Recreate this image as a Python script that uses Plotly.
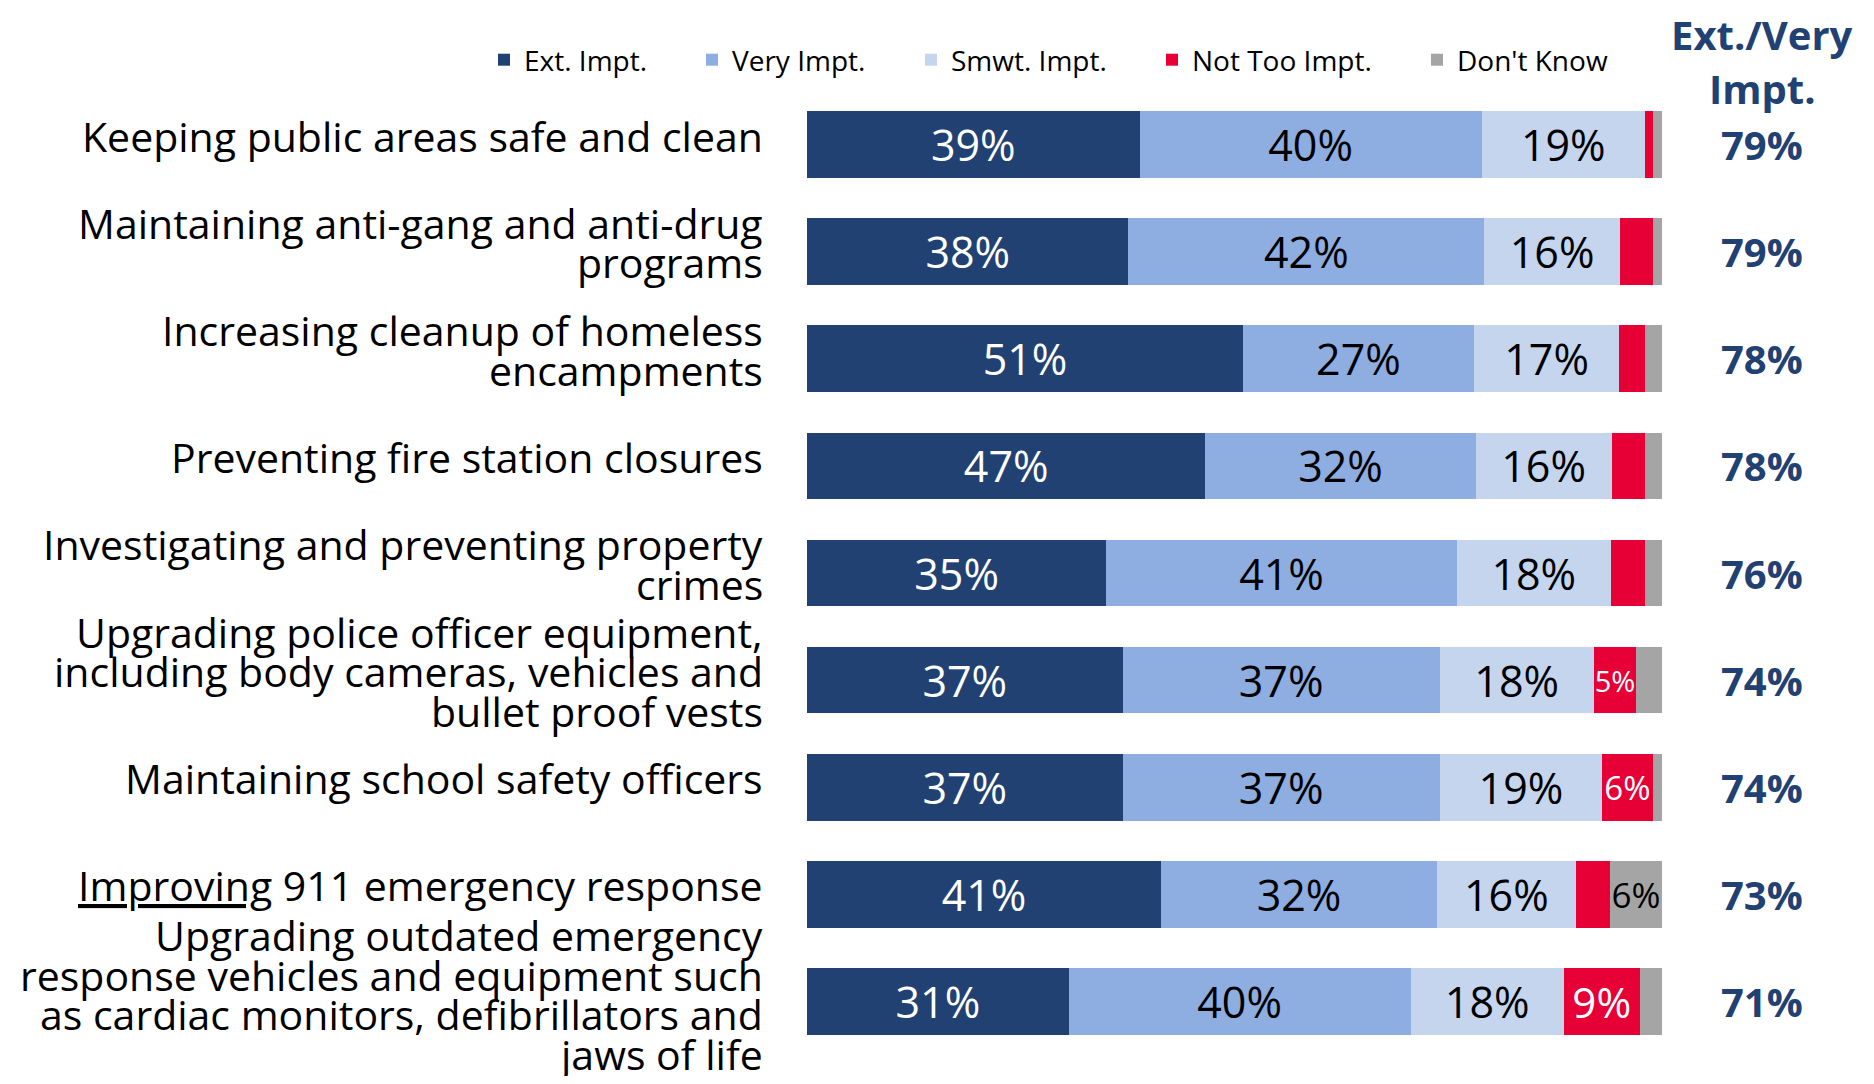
import re
import plotly.graph_objects as go

# ---------------- data ----------------
categories = [
    "Keeping public areas safe and clean",
    "Maintaining anti-gang and anti-drug\nprograms",
    "Increasing cleanup of homeless\nencampments",
    "Preventing fire station closures",
    "Investigating and preventing property\ncrimes",
    "Upgrading police officer equipment,\nincluding body cameras, vehicles and\nbullet proof vests",
    "Maintaining school safety officers",
    "<u>Improving</u> 911 emergency response",
    "Upgrading outdated emergency\nresponse vehicles and equipment such\nas cardiac monitors, defibrillators and\njaws of life",
]
ext_impt = [38.9, 37.6, 51.0, 46.6, 35.0, 36.9, 36.9, 41.4, 30.6]
very_impt = [40.0, 41.6, 27.0, 31.6, 41.0, 37.1, 37.1, 32.3, 40.0]
smwt_impt = [19.1, 15.9, 17.0, 15.9, 18.0, 18.0, 19.0, 16.2, 17.9]
not_too_impt = [1.0, 3.8, 3.0, 3.9, 4.0, 5.0, 5.9, 4.0, 8.9]
dont_know = [1.0, 1.1, 2.0, 2.0, 2.0, 3.0, 1.1, 6.1, 2.6]
net_ext_very = [79, 79, 78, 78, 76, 74, 74, 73, 71]
series_names = ["Ext. Impt.", "Very Impt.", "Smwt. Impt.", "Not Too Impt.", "Don't Know"]
net_header = ["Ext./Very", "Impt."]

# ---------------- styles ----------------
colors = ["#224173", "#8EADE0", "#C5D5EE", "#E60036", "#A5A5A5"]
text_colors = ["white", "black", "black", "white", "black"]
FONT = "Open Sans"
NAVY = "#224173"
OFF = 8                      # page body margin
W, H = 1874 - 2 * OFF, 1084 - 2 * OFF
PL, PR, PT, PB = 807, 1662, 91, 1055   # plot area, page pixels
LINE_H = 39.5

def xp(px):
    return (px - PL) / (PR - PL)

def yp(py):
    return (PB - py) / (PB - PT)

cat_names = [re.sub(r"<[^>]+>", "", c).replace("\n", " ") for c in categories]
series = [ext_impt, very_impt, smwt_impt, not_too_impt, dont_know]
small_sizes = {(3, 5): 29, (3, 6): 33, (3, 8): 42, (4, 7): 35}
legend_text_px = [524, 732, 951, 1192, 1457]
label_shift = [9, 9, 9, 9, 9, 9, 9, 9, 7]

fig = go.Figure()
for s, (name, vals) in enumerate(zip(series_names, series)):
    texts = [f"{round(v)}%" if (s < 3 or v >= 4.5) else "" for v in vals]
    sizes = [small_sizes.get((s, i), 43) for i in range(len(vals))]
    lg = "legend" if s == 0 else f"legend{s+1}"
    fig.add_trace(go.Bar(
        y=cat_names, x=vals, name=name, orientation="h",
        marker=dict(color=colors[s], line=dict(width=0)),
        text=texts, textposition="inside", insidetextanchor="middle",
        textangle=0, constraintext="none",
        textfont=dict(family=FONT, size=sizes, color=text_colors[s]),
        legend=lg, hoverinfo="x+name",
    ))

annotations = []
for i, cat in enumerate(categories):
    lines = cat.split("\n")
    n = len(lines)
    for k, line in enumerate(lines):
        annotations.append(dict(
            x=xp(765), xref="paper", y=cat_names[i], yref="y",
            xanchor="right", yanchor="middle",
            yshift=((n - 1) / 2 - k) * LINE_H + label_shift[i],
            text=line, showarrow=False,
            font=dict(family=FONT, size=41, color="black"),
        ))
    annotations.append(dict(
        x=xp(1762), xref="paper", y=cat_names[i], yref="y",
        xanchor="center", yanchor="middle",
        text=f"<b>{net_ext_very[i]}%</b>", showarrow=False,
        font=dict(family=FONT, size=40, color=NAVY),
    ))
for line, py in zip(net_header, [35, 88]):
    annotations.append(dict(
        x=xp(1762), xref="paper", y=yp(py), yref="paper",
        xanchor="center", yanchor="middle",
        text=f"<b>{line}</b>", showarrow=False,
        font=dict(family=FONT, size=40, color=NAVY),
    ))

layout_legends = {}
for s in range(len(series_names)):
    key = "legend" if s == 0 else f"legend{s+1}"
    layout_legends[key] = dict(
        x=xp(legend_text_px[s] - 40), xanchor="left",
        y=yp(60), yanchor="middle", orientation="h",
        font=dict(family=FONT, size=28, color="black"),
        bgcolor="rgba(0,0,0,0)", borderwidth=0,
        itemclick=False, itemdoubleclick=False,
    )

fig.update_layout(
    width=W, height=H,
    barmode="stack", bargap=0.378,
    margin=dict(l=PL - OFF, r=(W + OFF) - PR, t=PT - OFF, b=(H + OFF) - PB, pad=0),
    paper_bgcolor="white", plot_bgcolor="white",
    font=dict(family=FONT),
    xaxis=dict(range=[0, 100], visible=False, fixedrange=True),
    yaxis=dict(type="category", categoryorder="array", categoryarray=cat_names,
               range=[8.5, -0.5], visible=False, fixedrange=True),
    annotations=annotations,
    showlegend=True,
    **layout_legends,
)

fig.write_html("out.html")
